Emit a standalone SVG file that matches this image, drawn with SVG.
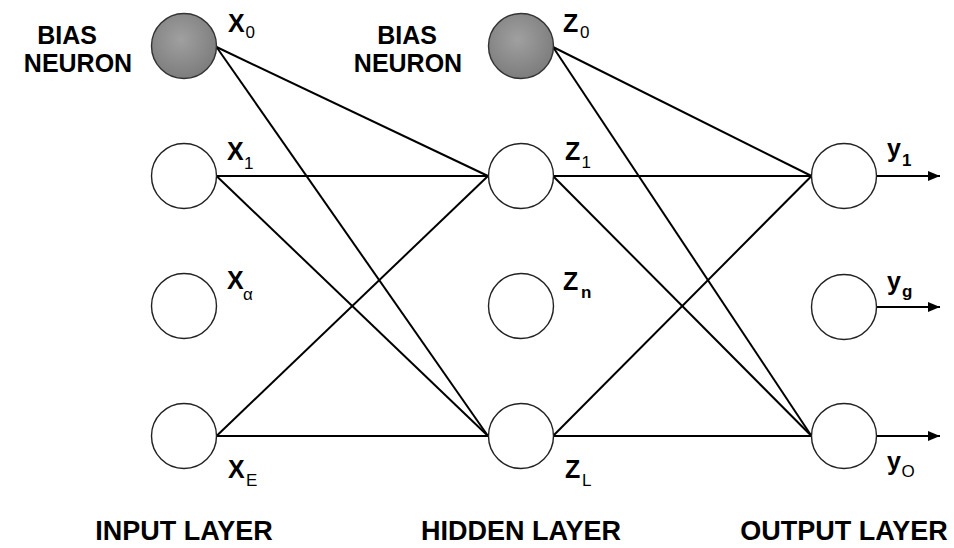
<svg xmlns="http://www.w3.org/2000/svg" width="954" height="548" viewBox="0 0 954 548">
<style>
  .node { fill: #ffffff; stroke: #222; stroke-width: 1.4; }
  .bias { fill: url(#biasFill); stroke: #333; stroke-width: 1.4; }
  .edge { stroke: #000; stroke-width: 2; fill: none; }
  .out { stroke: #000; stroke-width: 2; fill: none; marker-end: url(#arrow); }
  .lbl { font-family: "Liberation Sans", Arial, sans-serif; font-weight: bold; font-size: 25px; fill: #000; }
  .sub { font-family: "Liberation Sans", Arial, sans-serif; font-size: 17px; fill: #000; }
  .subb { font-family: "Liberation Sans", Arial, sans-serif; font-weight: bold; font-size: 17px; fill: #000; }
  .cap { font-family: "Liberation Sans", Arial, sans-serif; font-weight: bold; font-size: 25px; fill: #000; text-anchor: middle; }
  .layer { font-family: "Liberation Sans", Arial, sans-serif; font-weight: bold; font-size: 27px; fill: #000; text-anchor: middle; }
</style>
<defs>
  <radialGradient id="biasFill" cx="0.45" cy="0.4" r="0.65">
    <stop offset="0" stop-color="#a0a0a0"/>
    <stop offset="1" stop-color="#7a7a7a"/>
  </radialGradient>
  <marker id="arrow" viewBox="0 0 12 10" refX="12" refY="5" markerWidth="12" markerHeight="10" markerUnits="userSpaceOnUse" orient="auto">
    <path d="M0,0 L12,5 L0,10 Z" fill="#000"/>
  </marker>
</defs>
<rect width="954" height="548" fill="#fff"/>

<g id="connectors">
  <line class="edge" x1="216.5" y1="47" x2="488" y2="176"/>
  <line class="edge" x1="216.5" y1="47" x2="488" y2="436"/>
  <line class="edge" x1="216.5" y1="176" x2="488" y2="176"/>
  <line class="edge" x1="216.5" y1="176" x2="488" y2="436"/>
  <line class="edge" x1="216.5" y1="436" x2="488" y2="176"/>
  <line class="edge" x1="216.5" y1="436" x2="488" y2="436"/>
  <line class="edge" x1="553" y1="47" x2="811.5" y2="176"/>
  <line class="edge" x1="553" y1="47" x2="811.5" y2="436"/>
  <line class="edge" x1="553" y1="176" x2="811.5" y2="176"/>
  <line class="edge" x1="553" y1="176" x2="811.5" y2="436"/>
  <line class="edge" x1="553" y1="436" x2="811.5" y2="176"/>
  <line class="edge" x1="553" y1="436" x2="811.5" y2="436"/>
  <line class="out" x1="876" y1="176" x2="940" y2="176"/>
  <line class="out" x1="876" y1="307" x2="940" y2="307"/>
  <line class="out" x1="876" y1="436" x2="940" y2="436"/>
</g>

<g id="bias-label-input">
  <text class="cap" x="67" y="44">BIAS</text>
  <text class="cap" x="78" y="72">NEURON</text>
</g>
<g id="bias-label-hidden">
  <text class="cap" x="407" y="44">BIAS</text>
  <text class="cap" x="408" y="72">NEURON</text>
</g>

<g id="node-x0">
  <circle class="bias" cx="184" cy="46" r="32.5"/>
  <text class="lbl" x="228" y="32">X</text><text class="sub" x="245.5" y="38">0</text>
</g>
<g id="node-x1">
  <circle class="node" cx="184" cy="176" r="32.5"/>
  <text class="lbl" x="227" y="160">X</text><text class="sub" x="244" y="169">1</text>
</g>
<g id="node-xa">
  <circle class="node" cx="184" cy="306" r="32.5"/>
  <text class="lbl" x="227" y="289">X</text><text class="sub" x="243" y="300">α</text>
</g>
<g id="node-xe">
  <circle class="node" cx="184" cy="436" r="32.5"/>
  <text class="lbl" x="228" y="478">X</text><text class="sub" x="246" y="486">E</text>
</g>

<g id="node-z0">
  <circle class="bias" cx="521" cy="46" r="32.5"/>
  <text class="lbl" x="563" y="32">Z</text><text class="sub" x="580" y="38">0</text>
</g>
<g id="node-z1">
  <circle class="node" cx="521" cy="176" r="32.5"/>
  <text class="lbl" x="565" y="160">Z</text><text class="sub" x="581.5" y="168">1</text>
</g>
<g id="node-zn">
  <circle class="node" cx="521" cy="306" r="32.5"/>
  <text class="lbl" x="563" y="290">Z</text><text class="subb" x="581" y="298">n</text>
</g>
<g id="node-zl">
  <circle class="node" cx="521" cy="436" r="32.5"/>
  <text class="lbl" x="565" y="478">Z</text><text class="sub" x="582" y="486">L</text>
</g>

<g id="node-y1">
  <circle class="node" cx="844" cy="176" r="32.5"/>
  <text class="lbl" x="887" y="157">y</text><text class="subb" x="902" y="166">1</text>
</g>
<g id="node-yg">
  <circle class="node" cx="844" cy="307" r="32.5"/>
  <text class="lbl" x="887" y="290">y</text><text class="subb" x="902" y="297">g</text>
</g>
<g id="node-yo">
  <circle class="node" cx="844" cy="436" r="32.5"/>
  <text class="lbl" x="887" y="470">y</text><text class="sub" x="901.5" y="477">O</text>
</g>

<g id="layer-labels">
  <text class="layer" x="184" y="540">INPUT LAYER</text>
  <text class="layer" x="521" y="540">HIDDEN LAYER</text>
  <text class="layer" x="844" y="540">OUTPUT LAYER</text>
</g>
</svg>
